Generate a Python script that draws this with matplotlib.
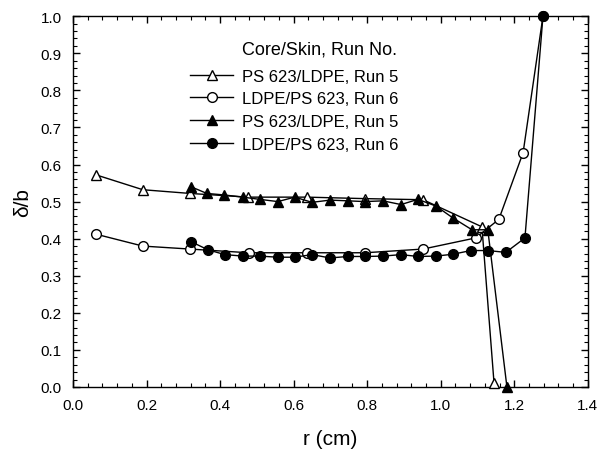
import matplotlib
matplotlib.use("Agg")
import matplotlib.pyplot as plt
from matplotlib.ticker import MultipleLocator, AutoMinorLocator

plt.rcParams['font.family'] = ['Liberation Sans', 'DejaVu Sans']

# open triangles: PS 623/LDPE, Run 5
r_tri_open = [0.063, 0.19, 0.318, 0.476, 0.636, 0.794, 0.952, 1.112, 1.145]
d_tri_open = [0.572, 0.532, 0.522, 0.512, 0.512, 0.508, 0.505, 0.432, 0.01]

# open circles: LDPE/PS 623, Run 6
r_circ_open = [0.063, 0.19, 0.318, 0.478, 0.636, 0.794, 0.952, 1.095, 1.158, 1.224, 1.278]
d_circ_open = [0.412, 0.38, 0.372, 0.362, 0.362, 0.362, 0.372, 0.402, 0.452, 0.632, 1.0]

# filled triangles: PS 623/LDPE, Run 5
r_tri_fill = [0.321, 0.364, 0.41, 0.462, 0.508, 0.557, 0.603, 0.65, 0.699, 0.748,
              0.794, 0.843, 0.892, 0.938, 0.987, 1.033, 1.085, 1.128, 1.18]
d_tri_fill = [0.54, 0.522, 0.518, 0.512, 0.506, 0.5, 0.512, 0.498, 0.504, 0.502,
              0.5, 0.502, 0.492, 0.506, 0.488, 0.456, 0.424, 0.424, 0.0]

# filled circles: LDPE/PS 623, Run 6
r_circ_fill = [0.321, 0.367, 0.413, 0.462, 0.508, 0.557, 0.603, 0.65, 0.699, 0.748,
               0.794, 0.843, 0.892, 0.938, 0.987, 1.033, 1.082, 1.128, 1.177, 1.229, 1.278]
d_circ_fill = [0.392, 0.37, 0.357, 0.353, 0.353, 0.35, 0.35, 0.357, 0.348, 0.352,
               0.352, 0.353, 0.357, 0.352, 0.353, 0.358, 0.368, 0.368, 0.363, 0.402, 1.0]

fig = plt.figure(figsize=(5.98, 4.52), dpi=100)
ax = fig.add_axes([0.122, 0.1416, 0.861, 0.8204])

style = dict(color='black', lw=1.0, markersize=7, markeredgewidth=1.0, clip_on=False, zorder=3)
ax.plot(r_tri_open, d_tri_open, marker='^', mfc='white', label='PS 623/LDPE, Run 5', **style)
ax.plot(r_circ_open, d_circ_open, marker='o', mfc='white', label='LDPE/PS 623, Run 6', **style)
ax.plot(r_tri_fill, d_tri_fill, marker='^', mfc='black', label='PS 623/LDPE, Run 5', **style)
ax.plot(r_circ_fill, d_circ_fill, marker='o', mfc='black', label='LDPE/PS 623, Run 6', **style)

ax.set_xlim(0, 1.4)
ax.set_ylim(0, 1.0)
ax.xaxis.set_major_locator(MultipleLocator(0.2))
ax.yaxis.set_major_locator(MultipleLocator(0.1))
ax.xaxis.set_minor_locator(AutoMinorLocator(5))
ax.yaxis.set_minor_locator(AutoMinorLocator(5))
ax.xaxis.set_major_formatter(plt.FormatStrFormatter('%.1f'))
ax.yaxis.set_major_formatter(plt.FormatStrFormatter('%.1f'))
ax.tick_params(which='both', direction='in', top=True, right=True, labelsize=11)
ax.tick_params(which='major', length=5, width=1, pad=8)
ax.tick_params(which='minor', length=3, width=0.8)
for sp in ax.spines.values():
    sp.set_linewidth(1.0)

ax.set_xlabel('r (cm)', fontsize=15, labelpad=12)
ax.set_ylabel('δ/b', fontsize=15, labelpad=6)

# legend title is left aligned with the entry texts, so it is placed on its own
fig.text(242 / 598, 1 - 50 / 452, 'Core/Skin, Run No.', fontsize=13, ha='left', va='center')
leg = ax.legend(loc='upper left', bbox_to_anchor=(0.318, 0.846),
                bbox_transform=fig.transFigure, frameon=False, fontsize=12,
                handlelength=2.6, handletextpad=0.5, labelspacing=0.46, borderpad=0, borderaxespad=0)

fig.savefig('out.png', dpi=100)
